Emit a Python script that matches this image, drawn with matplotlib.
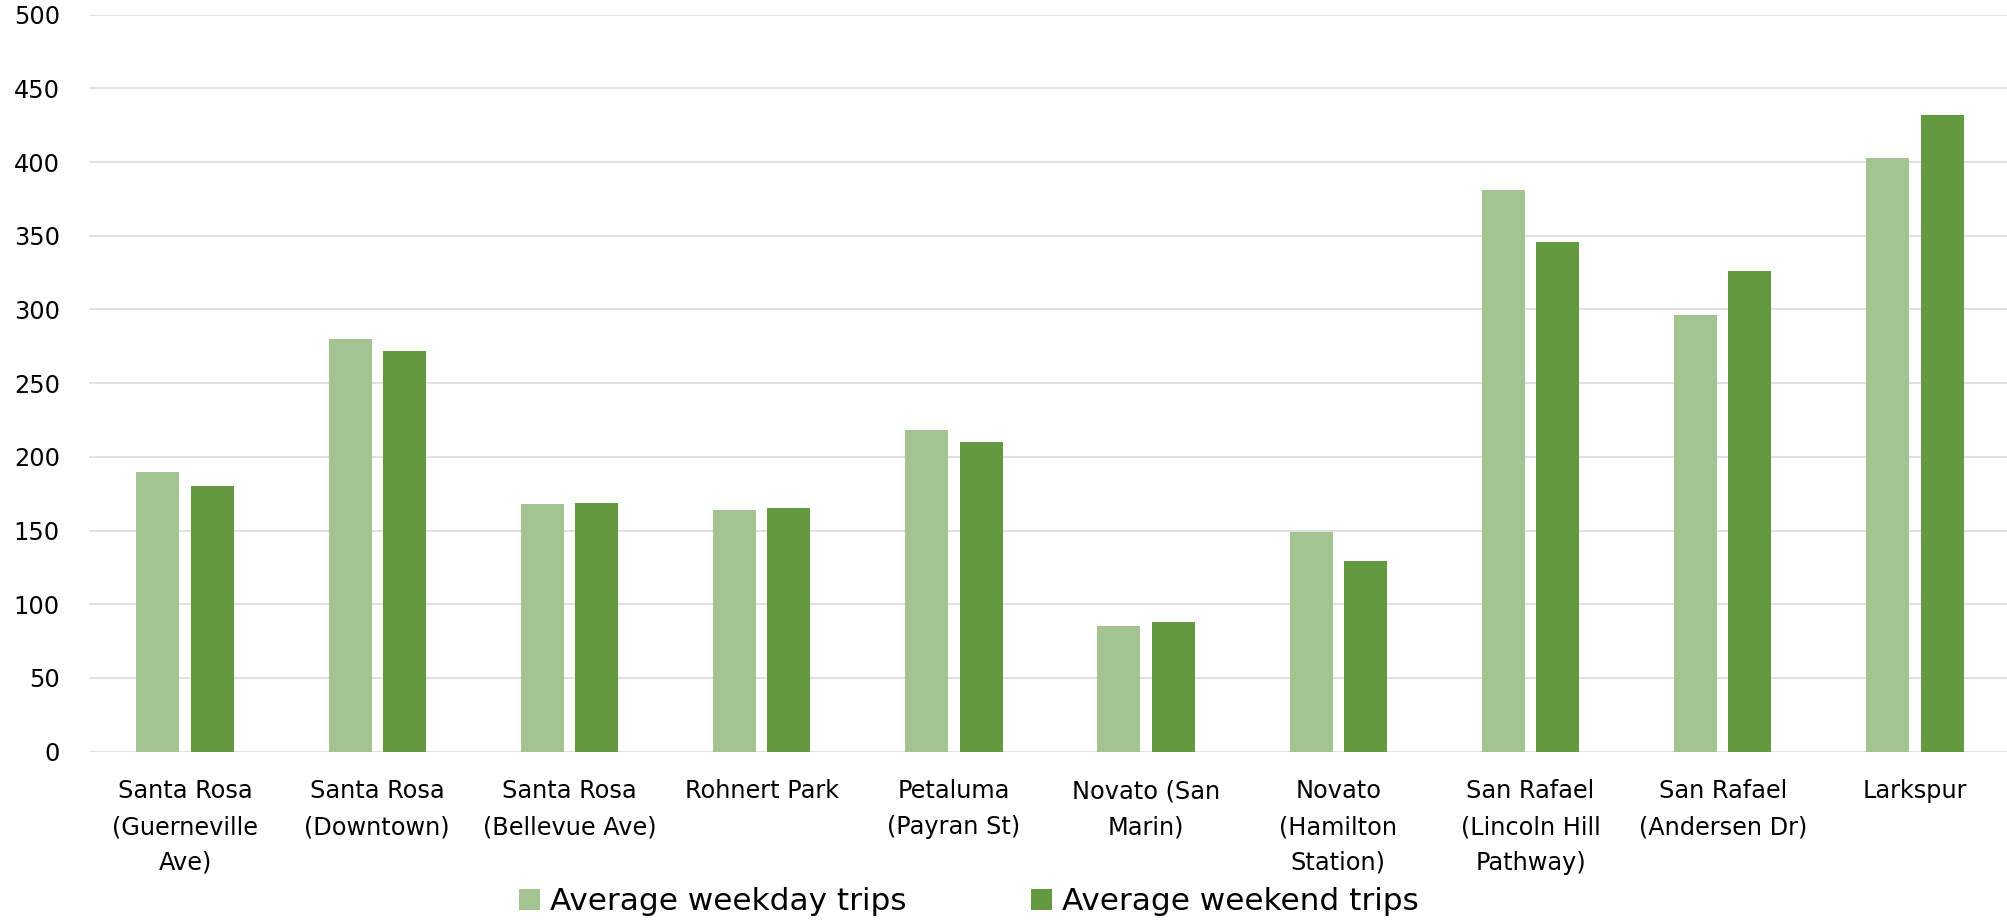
import matplotlib
matplotlib.use("Agg")
import matplotlib.pyplot as plt
import numpy as np

categories = [
    "Santa Rosa\n(Guerneville\nAve)",
    "Santa Rosa\n(Downtown)",
    "Santa Rosa\n(Bellevue Ave)",
    "Rohnert Park",
    "Petaluma\n(Payran St)",
    "Novato (San\nMarin)",
    "Novato\n(Hamilton\nStation)",
    "San Rafael\n(Lincoln Hill\nPathway)",
    "San Rafael\n(Andersen Dr)",
    "Larkspur",
]
weekday = [190, 280, 168, 164, 218, 85, 149, 381, 296, 403]
weekend = [180, 272, 169, 165, 210, 88, 129, 346, 326, 432]
series_names = ["Average weekday trips", "Average weekend trips"]
yticks = [0, 50, 100, 150, 200, 250, 300, 350, 400, 450, 500]

plt.rcParams['font.family'] = ['DejaVu Sans']

W, H = 2007, 923
fig = plt.figure(figsize=(W / 100, H / 100), dpi=100)
left = 89 / W
bottom = (H - 751.6) / H
top = (H - 14.7) / H
ax = fig.add_axes([left, bottom, 1922 / W, top - bottom])

x = np.arange(len(categories))
bw = 0.224
off = 0.1415
c1 = "#A3C490"
c2 = "#639A40"
b1 = ax.bar(x - off, weekday, bw, color=c1, label=series_names[0], zorder=3)
b2 = ax.bar(x + off, weekend, bw, color=c2, label=series_names[1], zorder=3)

ax.set_xlim(-0.5, len(categories) - 0.5)
ax.set_ylim(0, 500)
ax.set_yticks(yticks)
ax.set_yticklabels([str(v) for v in yticks])
ax.set_xticks(x)
ax.set_xticklabels(categories, linespacing=1.62)
ax.yaxis.grid(True, color="#D9D9D9", linewidth=1.1, zorder=0)
ax.set_axisbelow(True)
for s in ax.spines.values():
    s.set_visible(False)
ax.tick_params(axis="y", length=0, pad=21, labelsize=17.3, labelcolor="black")
ax.tick_params(axis="x", length=0, pad=20, labelsize=17.3, labelcolor="black")

fig.legend(handles=[b1, b2], labels=series_names, loc="center",
           bbox_to_anchor=(969 / W, 1 - 902 / H), ncol=2, frameon=False,
           fontsize=22.4, handlelength=0.68, handleheight=0.68,
           handletextpad=0.32, columnspacing=4.0, borderaxespad=0,
           borderpad=0)

fig.savefig("out.png", dpi=100)
